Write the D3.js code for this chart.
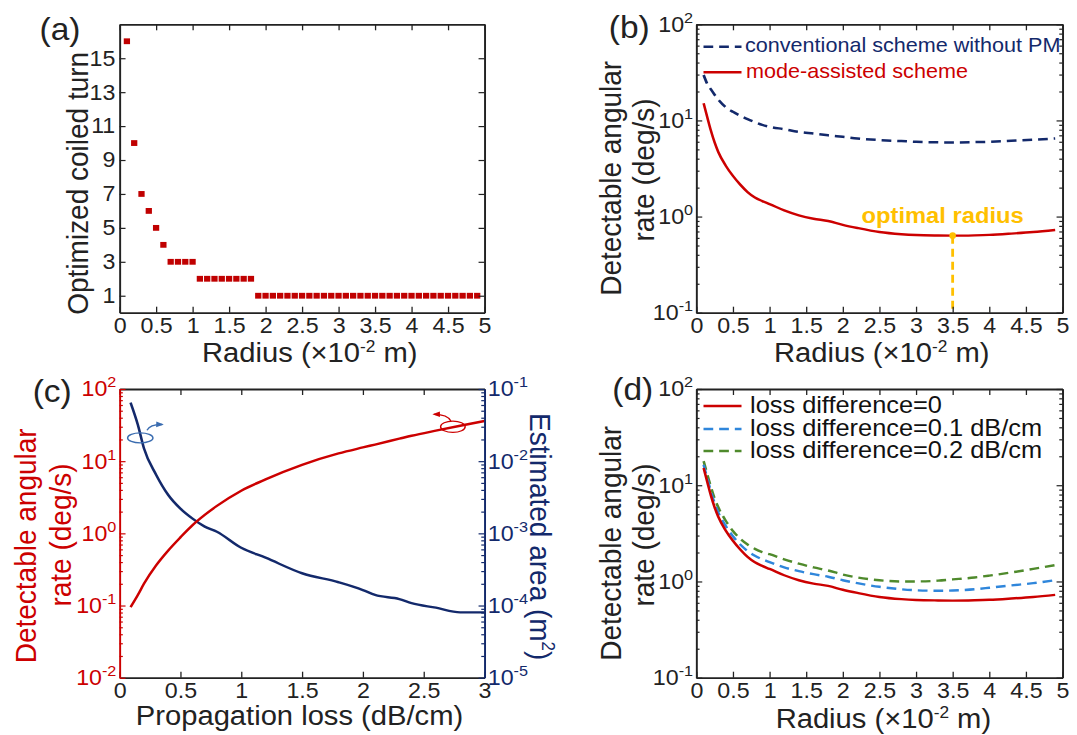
<!DOCTYPE html>
<html lang="en">
<head>
<meta charset="utf-8">
<title>Mode-assisted scheme: radius and loss</title>
<script src="https://d3js.org/d3.v7.min.js"></script>
<style>
  body { margin: 0; background: #fff; }
  svg { display: block; font-family: "Liberation Sans", Arial, Helvetica, sans-serif; }
  .domain { stroke-width: 1.8; }
  .tick line { stroke-width: 1.2; }
</style>
</head>
<body>
<script>
// ---------- data ----------

// (a) optimized coiled turn vs radius (x 10^-2 m)
const radiusA = [0.1, 0.2, 0.3, 0.4, 0.5, 0.6, 0.7, 0.8, 0.9, 1.0,
                 1.1, 1.2, 1.3, 1.4, 1.5, 1.6, 1.7, 1.8, 1.9, 2.0,
                 2.1, 2.2, 2.3, 2.4, 2.5, 2.6, 2.7, 2.8, 2.9, 3.0,
                 3.1, 3.2, 3.3, 3.4, 3.5, 3.6, 3.7, 3.8, 3.9, 4.0,
                 4.1, 4.2, 4.3, 4.4, 4.5, 4.6, 4.7, 4.8, 4.9];
const turnsA = [16, 10, 7, 6, 5, 4, 3, 3, 3, 3,
                2, 2, 2, 2, 2, 2, 2, 2, 1, 1,
                1, 1, 1, 1, 1, 1, 1, 1, 1, 1,
                1, 1, 1, 1, 1, 1, 1, 1, 1, 1,
                1, 1, 1, 1, 1, 1, 1, 1, 1];
const radiusTicks = [0, 0.5, 1, 1.5, 2, 2.5, 3, 3.5, 4, 4.5, 5];
const radiusTickLabels = ["0", "0.5", "1", "1.5", "2", "2.5", "3", "3.5", "4", "4.5", "5"];
const turnTicks = [1, 3, 5, 7, 9, 11, 13, 15];

// (b) and (d) detectable angular rate (deg/s) vs radius
const radiusB = [0.1, 0.15, 0.2, 0.25, 0.3, 0.4, 0.5, 0.6, 0.7, 0.8, 0.9, 1.0,
                 1.2, 1.4, 1.6, 1.8, 2.0, 2.2, 2.5, 2.8, 3.0, 3.3, 3.5, 3.8,
                 4.0, 4.3, 4.6, 4.9];
const rateMode = [15.1, 10.8, 7.8, 5.9, 4.7, 3.4, 2.65, 2.15, 1.8, 1.58, 1.45, 1.35,
                  1.16, 1.03, 0.95, 0.9, 0.82, 0.76, 0.69, 0.655, 0.642, 0.635, 0.633, 0.638,
                  0.645, 0.665, 0.69, 0.725];
const rateConv = [29.7, 24, 21, 18.5, 16.5, 13.8, 12.3, 11.2, 10.3, 9.6, 9.0, 8.6,
                  8.1, 7.6, 7.3, 7.0, 6.75, 6.5, 6.25, 6.1, 6.0, 5.92, 5.9, 5.95,
                  6.0, 6.15, 6.3, 6.5];
const rateLoss01 = [16.3, 11.8, 8.6, 6.5, 5.2, 3.8, 2.95, 2.42, 2.07, 1.85, 1.7, 1.59,
                    1.4, 1.28, 1.19, 1.12, 1.03, 0.96, 0.88, 0.83, 0.81, 0.8, 0.805, 0.83,
                    0.86, 0.91, 0.96, 1.03];
const rateLoss02 = [17.8, 13, 9.6, 7.3, 5.9, 4.3, 3.35, 2.78, 2.42, 2.18, 2.02, 1.92,
                    1.7, 1.53, 1.4, 1.3, 1.18, 1.1, 1.03, 1.0, 1.0, 1.02, 1.05, 1.1,
                    1.15, 1.24, 1.35, 1.48];
const rateTicks = [0.1, 1, 10, 100];
const rateExps = ["-1", "0", "1", "2"];
const optimalRadius = 3.5;

// (c) rate and estimated area vs propagation loss (dB/cm)
const lossC = [0.09, 0.15, 0.2, 0.3, 0.4, 0.5, 0.6, 0.7, 0.8, 1.0, 1.2, 1.5,
               1.8, 2.0, 2.1, 2.3, 2.4, 2.6, 2.8, 3.0];
const rateC = [0.095, 0.14, 0.2, 0.36, 0.58, 0.88, 1.3, 1.8, 2.4, 3.9, 5.6, 8.9,
               12.8, 15.5, 17, 20.5, 22.5, 26.5, 31, 36];
const areaC = [0.065, 0.032, 0.0151, 0.0065, 0.0034, 0.0022, 0.0016, 0.00124, 0.00105, 0.00063, 0.00046, 0.00028,
               0.00021, 0.000164, 0.00014, 0.000123, 0.000108, 0.0000933, 0.0000804, 0.0000804];
const lossTicks = [0, 0.5, 1, 1.5, 2, 2.5, 3];
const lossTickLabels = ["0", "0.5", "1", "1.5", "2", "2.5", "3"];
const rateTicksC = [0.01, 0.1, 1, 10, 100];
const rateExpsC = ["-2", "-1", "0", "1", "2"];
const areaTicks = [1e-5, 1e-4, 1e-3, 1e-2, 1e-1];
const areaExps = ["-5", "-4", "-3", "-2", "-1"];

// ---------- layout ----------
const W = 1077, H = 735;
const SX = 1.08;            // the figure is a bit wider than tall in its lettering
const X = v => v / SX;      // screen px -> drawing units
const TICK_FS = 21.5;

const RED = "#cc0000", NAVY = "#13296b", LBLUE = "#2f86db", GREEN = "#4f8a2c",
      GOLD = "#ffc000", INK = "#222";

const boxA = {l: 119.6, r: 484.5, t: 24.3, b: 312.7};
const boxB = {l: 696.3, r: 1062.5, t: 24.3, b: 312.7};
const boxC = {l: 119.6, r: 484.5, t: 389, b: 677.7};
const boxD = {l: 696.3, r: 1062.5, t: 389, b: 677.7};

const svg = d3.select("body").append("svg")
  .attr("width", W).attr("height", H)
  .attr("viewBox", `0 0 ${W / SX} ${H}`)
  .attr("preserveAspectRatio", "none");

svg.append("defs").append("marker")
  .attr("id", "head").attr("viewBox", "0 0 10 10")
  .attr("refX", 8).attr("refY", 5)
  .attr("markerWidth", 7).attr("markerHeight", 7)
  .attr("markerUnits", "userSpaceOnUse").attr("orient", "auto")
  .append("path").attr("d", "M0,1 L10,5 L0,9 z").attr("fill", "context-stroke");

// ---------- helpers ----------
function styleAxis(g, color) {
  g.attr("font-size", TICK_FS).attr("font-family", null).style("color", color);
}

// bottom axis with labels plus plain ticks along the top
function xAxes(box, x, ticks, labels) {
  svg.append("g")
    .attr("transform", `translate(0,${box.b})`)
    .call(d3.axisBottom(x).tickValues(ticks).tickFormat(d => labels[ticks.indexOf(d)])
      .tickSizeInner(-6).tickSizeOuter(0).tickPadding(5))
    .call(styleAxis, INK);
  svg.append("g")
    .attr("transform", `translate(0,${box.t})`)
    .call(d3.axisTop(x).tickValues(ticks).tickFormat("").tickSizeInner(-6).tickSizeOuter(0))
    .call(styleAxis, INK);
}

// log axis on one side: majors (optionally labelled as powers of ten) and minors
function logAxis(box, y, majors, exps, side, color) {
  const left = side === "left";
  const make = () => (left ? d3.axisLeft(y) : d3.axisRight(y));
  const pos = X(left ? box.l : box.r);
  const g = svg.append("g")
    .attr("transform", `translate(${pos},0)`)
    .call(make().tickValues(majors).tickFormat(() => "").tickSizeInner(-5.5).tickSizeOuter(0).tickPadding(3))
    .call(styleAxis, color);
  if (exps) {
    g.selectAll(".tick text").each(function(d) {
      const t = d3.select(this);
      t.append("tspan").text("10");
      t.append("tspan").attr("dy", -9).attr("font-size", 15).text(exps[majors.indexOf(d)]);
    });
  }
  const minors = y.ticks().filter(v => Math.abs(Math.log10(v) - Math.round(Math.log10(v))) > 1e-6);
  svg.append("g")
    .attr("transform", `translate(${pos},0)`)
    .call(make().tickValues(minors).tickFormat("").tickSizeInner(-3).tickSizeOuter(0))
    .call(styleAxis, color)
    .call(g => g.select(".domain").remove());
}

function curve(x, y, xs, ys) {
  return d3.line().x((d, i) => x(xs[i])).y(d => y(d)).curve(d3.curveMonotoneX)(ys);
}

function text(x, y, str, opts) {
  const t = svg.append("text").attr("x", x).attr("y", y).text(str);
  Object.entries(opts || {}).forEach(([k, v]) => t.attr(k, v));
  return t;
}

// rotated axis title, baseline at screen x
function yTitle(sx, cy, str, color) {
  return svg.append("text")
    .attr("transform", `translate(${X(sx)},${cy}) rotate(-90)`)
    .attr("text-anchor", "middle").attr("font-size", 28).attr("fill", color || INK)
    .text(str);
}

function radiusTitle(sx, y) {
  const t = svg.append("text").attr("x", X(sx)).attr("y", y)
    .attr("text-anchor", "middle").attr("font-size", 27).attr("fill", INK);
  t.append("tspan").text("Radius (\u00d710");
  t.append("tspan").attr("dy", -10).attr("font-size", 16).text("-2");
  t.append("tspan").attr("dy", 10).text(" m)");
}

// ---------- (a) ----------
const xA = d3.scaleLinear().domain([0, 5]).range([X(boxA.l), X(boxA.r)]);
const yA = d3.scaleLinear().domain([0, 17]).range([boxA.b, boxA.t]);

svg.selectAll("rect.turn").data(radiusA).join("rect")
  .attr("class", "turn")
  .attr("x", d => xA(d) - 2.9)
  .attr("y", (d, i) => yA(turnsA[i]) - 2.9)
  .attr("width", 5.8).attr("height", 5.8)
  .attr("fill", "#c00000");

xAxes(boxA, xA, radiusTicks, radiusTickLabels);
svg.append("g").attr("transform", `translate(${X(boxA.l)},0)`)
  .call(d3.axisLeft(yA).tickValues(turnTicks).tickSizeInner(-5.5).tickSizeOuter(0).tickPadding(4))
  .call(styleAxis, INK);
svg.append("g").attr("transform", `translate(${X(boxA.r)},0)`)
  .call(d3.axisRight(yA).tickValues(turnTicks).tickFormat("").tickSizeInner(-5.5).tickSizeOuter(0))
  .call(styleAxis, INK);

text(X(39.6), 40, "(a)", {"font-size": 31, fill: INK});
yTitle(88, 183.3, "Optimized coiled turn");
radiusTitle(309.8, 362.5);

// ---------- (b) ----------
const xB = d3.scaleLinear().domain([0, 5]).range([X(boxB.l), X(boxB.r)]);
const yB = d3.scaleLog().domain([0.1, 100]).range([boxB.b, boxB.t]);

svg.append("path").attr("d", curve(xB, yB, radiusB, rateConv))
  .attr("fill", "none").attr("stroke", NAVY).attr("stroke-width", 2.5).attr("stroke-dasharray", "9,5.5");
svg.append("path").attr("d", curve(xB, yB, radiusB, rateMode))
  .attr("fill", "none").attr("stroke", RED).attr("stroke-width", 2.4);

const optX = xB(optimalRadius), optY = yB(rateMode[radiusB.indexOf(optimalRadius)]);
svg.append("line").attr("x1", optX).attr("x2", optX).attr("y1", optY).attr("y2", boxB.b)
  .attr("stroke", GOLD).attr("stroke-width", 2.6).attr("stroke-dasharray", "8,5");
svg.append("ellipse").attr("cx", optX).attr("cy", optY).attr("rx", X(3.3)).attr("ry", 3.3).attr("fill", GOLD);
text(optX - X(10), optY - 13, "optimal radius",
  {"font-size": 22, "font-weight": "bold", fill: GOLD, "text-anchor": "middle"});

xAxes(boxB, xB, radiusTicks, radiusTickLabels);
logAxis(boxB, yB, rateTicks, rateExps, "left", INK);
logAxis(boxB, yB, rateTicks, null, "right", INK);

// legend (b)
svg.append("line").attr("x1", X(703.5)).attr("x2", X(741.5)).attr("y1", 46.7).attr("y2", 46.7)
  .attr("stroke", NAVY).attr("stroke-width", 2.5).attr("stroke-dasharray", "9,5.5");
text(X(745), 52, "conventional scheme without PM", {"font-size": 20, fill: NAVY});
svg.append("line").attr("x1", X(703.5)).attr("x2", X(741.5)).attr("y1", 72.3).attr("y2", 72.3)
  .attr("stroke", RED).attr("stroke-width", 2.4);
text(X(746), 77.6, "mode-assisted scheme", {"font-size": 20, fill: RED});

text(X(608.8), 38, "(b)", {"font-size": 31, fill: INK});
yTitle(621, 178.3, "Detectable angular");
yTitle(653.6, 170, "rate (deg/s)");
radiusTitle(881.7, 362.5);

// ---------- (c) ----------
const xC = d3.scaleLinear().domain([0, 3]).range([X(boxC.l), X(boxC.r)]);
const yC = d3.scaleLog().domain([0.01, 100]).range([boxC.b, boxC.t]);
const yArea = d3.scaleLog().domain([1e-5, 1e-1]).range([boxC.b, boxC.t]);

svg.append("path").attr("d", curve(xC, yArea, lossC, areaC))
  .attr("fill", "none").attr("stroke", NAVY).attr("stroke-width", 2.4);
svg.append("path").attr("d", curve(xC, yC, lossC, rateC))
  .attr("fill", "none").attr("stroke", RED).attr("stroke-width", 2.4);

// curve markers: which axis each line belongs to
const bx = xC(0.17), by = yArea(0.021);
svg.append("ellipse").attr("cx", bx).attr("cy", by).attr("rx", X(12.7)).attr("ry", 5)
  .attr("fill", "none").attr("stroke", "#3a6cb0").attr("stroke-width", 1.3);
svg.append("path")
  .attr("d", `M${bx + X(6.7)},${by - 7.7} Q${bx + X(10)},${by - 13.7} ${bx + X(22)},${by - 13.4}`)
  .attr("fill", "none").attr("stroke", "#3a6cb0").attr("stroke-width", 1.3).attr("marker-end", "url(#head)");
const rx = xC(2.74), ry = yC(30);
svg.append("ellipse").attr("cx", rx).attr("cy", ry).attr("rx", X(12.3)).attr("ry", 5.7)
  .attr("fill", "none").attr("stroke", RED).attr("stroke-width", 1.3);
svg.append("path")
  .attr("d", `M${rx - X(2)},${ry - 5.7} Q${rx - X(5.5)},${ry - 12.5} ${rx - X(19)},${ry - 12.4}`)
  .attr("fill", "none").attr("stroke", RED).attr("stroke-width", 1.3).attr("marker-end", "url(#head)");

xAxes(boxC, xC, lossTicks, lossTickLabels);
logAxis(boxC, yC, rateTicksC, rateExpsC, "left", RED);
logAxis(boxC, yArea, areaTicks, areaExps, "right", NAVY);

text(X(32.7), 402, "(c)", {"font-size": 31, fill: INK});
yTitle(36.1, 545.8, "Detectable angular", RED);
yTitle(70.6, 535, "rate (deg/s)", RED);
const areaTitle = svg.append("text")
  .attr("transform", `translate(${X(530)},536.7) rotate(90)`)
  .attr("text-anchor", "middle").attr("font-size", 28).attr("fill", NAVY);
areaTitle.append("tspan").text("Estimated area (m");
areaTitle.append("tspan").attr("dy", -11).attr("font-size", 17).text("2");
areaTitle.append("tspan").attr("dy", 11).text(")");
text(X(299.5), 725.5, "Propagation loss (dB/cm)", {"font-size": 27, fill: INK, "text-anchor": "middle"});

// ---------- (d) ----------
const xD = d3.scaleLinear().domain([0, 5]).range([X(boxD.l), X(boxD.r)]);
const yD = d3.scaleLog().domain([0.1, 100]).range([boxD.b, boxD.t]);

svg.append("path").attr("d", curve(xD, yD, radiusB, rateLoss02))
  .attr("fill", "none").attr("stroke", GREEN).attr("stroke-width", 2.4).attr("stroke-dasharray", "9,5.5");
svg.append("path").attr("d", curve(xD, yD, radiusB, rateLoss01))
  .attr("fill", "none").attr("stroke", LBLUE).attr("stroke-width", 2.4).attr("stroke-dasharray", "9,5.5");
svg.append("path").attr("d", curve(xD, yD, radiusB, rateMode))
  .attr("fill", "none").attr("stroke", RED).attr("stroke-width", 2.4);

xAxes(boxD, xD, radiusTicks, radiusTickLabels);
logAxis(boxD, yD, rateTicks, rateExps, "left", INK);
logAxis(boxD, yD, rateTicks, null, "right", INK);

const legendD = [
  {label: "loss difference=0", color: RED, dash: null, y: 406},
  {label: "loss difference=0.1 dB/cm", color: LBLUE, dash: "9,5.5", y: 429},
  {label: "loss difference=0.2 dB/cm", color: GREEN, dash: "9,5.5", y: 451}
];
legendD.forEach(e => {
  svg.append("line").attr("x1", X(703.5)).attr("x2", X(741.5)).attr("y1", e.y).attr("y2", e.y)
    .attr("stroke", e.color).attr("stroke-width", 2.4).attr("stroke-dasharray", e.dash);
  text(X(750), e.y + 7, e.label, {"font-size": 23.5, fill: "#111"});
});

text(X(612.3), 400, "(d)", {"font-size": 31, fill: INK});
yTitle(621, 543.3, "Detectable angular");
yTitle(653.6, 535, "rate (deg/s)");
radiusTitle(883.4, 728);
</script>
</body>
</html>
